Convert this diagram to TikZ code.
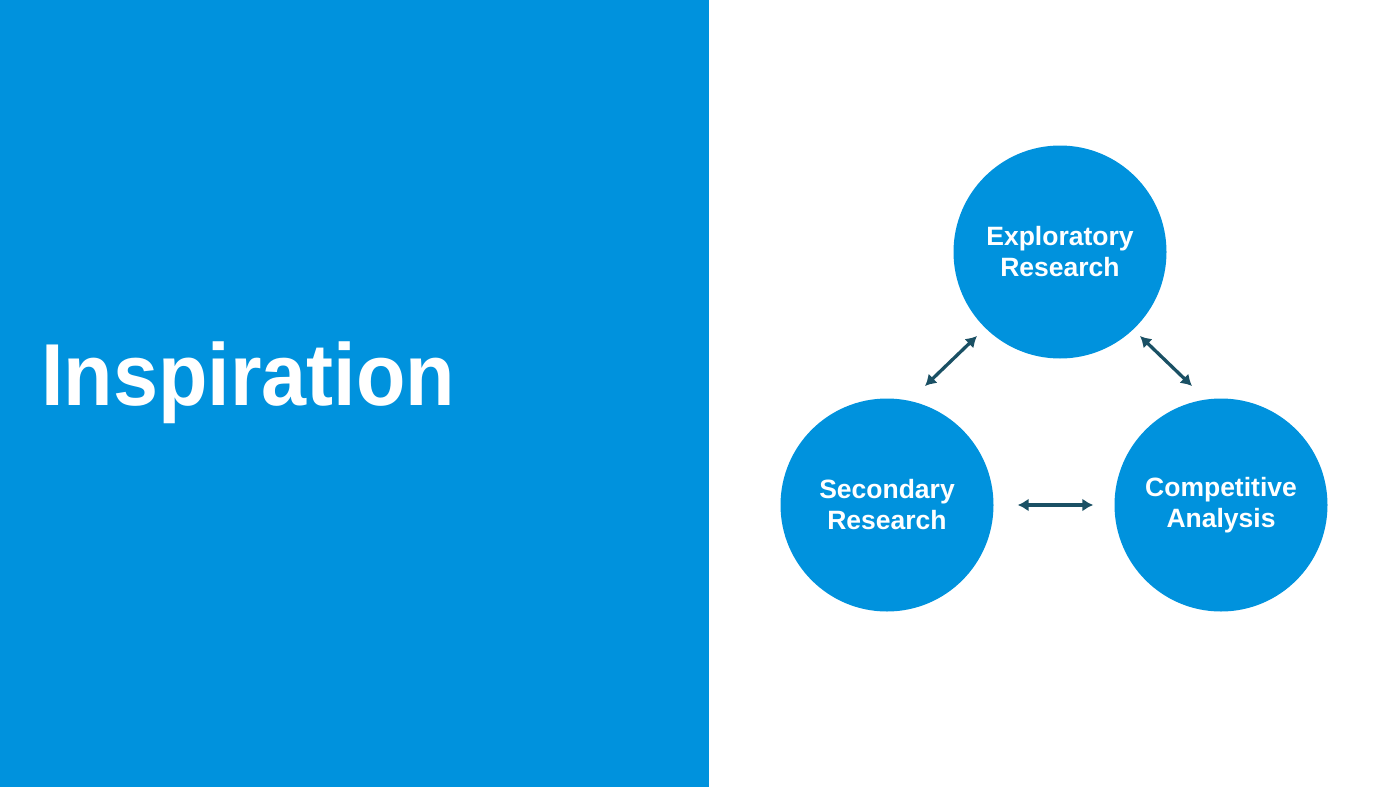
\documentclass[tikz,border=0pt]{standalone}
\usepackage{fontspec}
\setmainfont{Liberation Sans}
\newfontfamily\titlefont[FakeStretch=0.92]{Liberation Sans}
\usetikzlibrary{arrows.meta,positioning,calc}

\definecolor{slideblue}{RGB}{0,146,221}
\definecolor{linkteal}{RGB}{26,80,100}

\tikzset{
    topic/.style={circle, fill=slideblue, draw=none, minimum size=213pt, inner sep=0pt,
        text=white, align=center, font=\fontsize{26.5}{31}\selectfont\bfseries},
    link/.style={line width=3.3pt, linkteal, {Latex[length=11pt,width=13pt]}-{Latex[length=11pt,width=13pt]}}
}

\begin{document}
\begin{tikzpicture}[x=1pt,y=-1pt]
                \useasboundingbox (0,0) rectangle (1400,787);

                % Left panel
                \fill[slideblue] (0,0) rectangle (709,787);
                \node[anchor=base west, inner sep=0pt, text=white,
                    font=\titlefont\fontsize{88}{88}\selectfont\bfseries] (title) at (41,405) {Inspiration};

                % Circles
                \node[topic] (expl) at (1060,252) {Exploratory\\Research};
                \node[topic] (sec) at (887,505) {Secondary\\Research};
                \node[topic] (comp) at (1221,505) {Competitive\\Analysis};

                % Arrows
                \draw[link] ([shift={(-83,84)}]expl.center) -- ([shift={(38,-119)}]sec.center);
                \draw[link] ([shift={(80,84)}]expl.center) -- ([shift={(-29,-119)}]comp.center);
                \draw[link, shorten <=24pt, shorten >=21pt] (sec) -- (comp);
            \end{tikzpicture}
\end{document}
